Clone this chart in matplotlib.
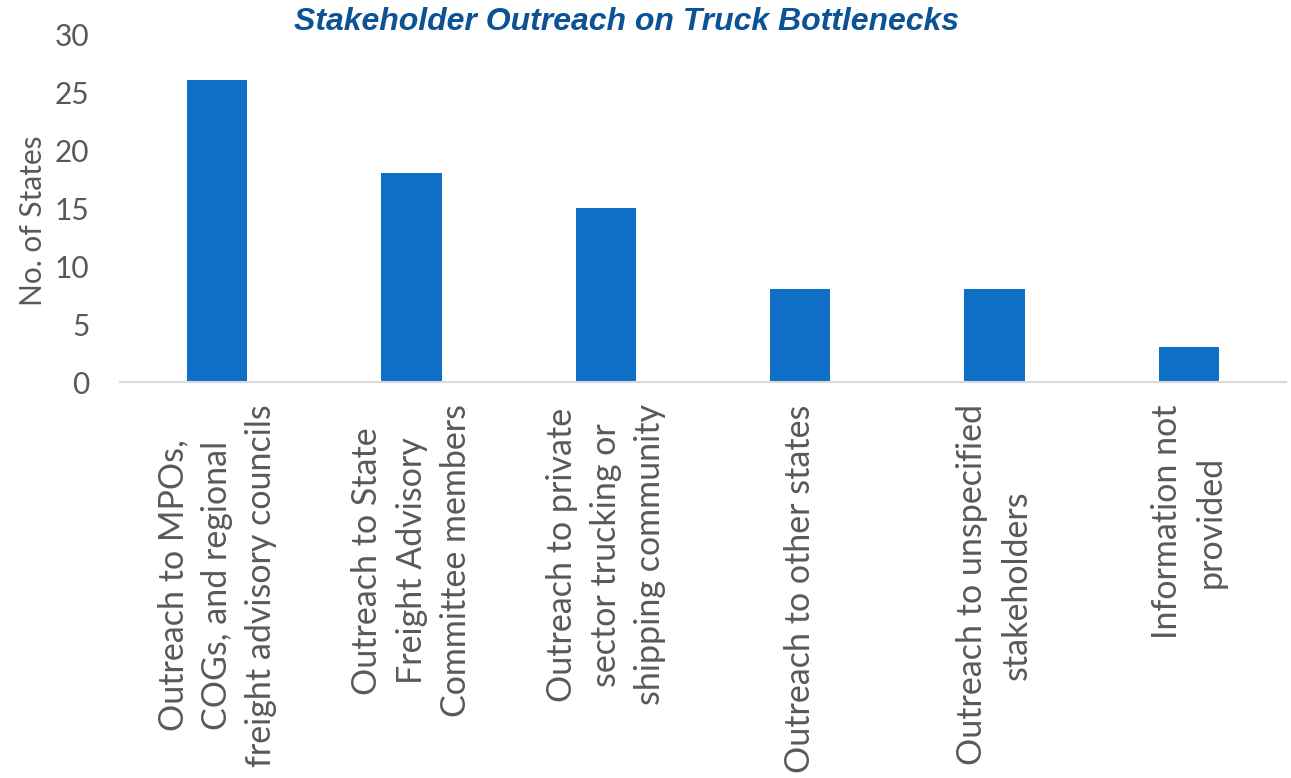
import matplotlib
matplotlib.use("Agg")
import matplotlib.pyplot as plt

categories = [
    "Outreach to MPOs,\nCOGs, and regional\nfreight advisory councils",
    "Outreach to State\nFreight Advisory\nCommittee members",
    "Outreach to private\nsector trucking or\nshipping community",
    "Outreach to other states",
    "Outreach to unspecified\nstakeholders",
    "Information not\nprovided",
]
states = [26, 18, 15, 8, 8, 3]

grey = "#595959"
plt.rcParams["font.family"] = ["Lato", "DejaVu Sans"]

fig = plt.figure(figsize=(12.91, 7.78), dpi=100)
ax = fig.add_axes([120 / 1291, 1 - 382 / 778, 1166 / 1291, 348 / 778])

x = range(len(categories))
ax.bar(x, states, width=0.31, color="#0F6FC6")

ax.set_xlim(-0.5, len(categories) - 0.5)
ax.set_ylim(0, 30)
ax.set_yticks(range(0, 31, 5))
ax.tick_params(axis="y", length=0, labelsize=21.5, colors=grey, pad=22)
ax.set_xticks(list(x))
ax.set_xticklabels(categories, rotation=90, ha="center", va="top",
                   multialignment="center", fontsize=24.5, color=grey,
                   linespacing=1.47)
ax.tick_params(axis="x", length=0, pad=16)

for side in ["top", "right", "left"]:
    ax.spines[side].set_visible(False)
ax.spines["bottom"].set_color("#D9D9D9")
ax.spines["bottom"].set_linewidth(1.5)

ax.set_ylabel("No. of States", fontsize=21.5, color=grey)
ax.yaxis.set_label_coords(-0.063, 0.463)

fig.text(627 / 1291, 1 - 22 / 778, "Stakeholder Outreach on Truck Bottlenecks",
         ha="center", va="center", fontsize=23, fontweight="bold",
         fontstyle="italic", color="#0B5394", family="Liberation Sans")

fig.savefig("out.png", dpi=100)
